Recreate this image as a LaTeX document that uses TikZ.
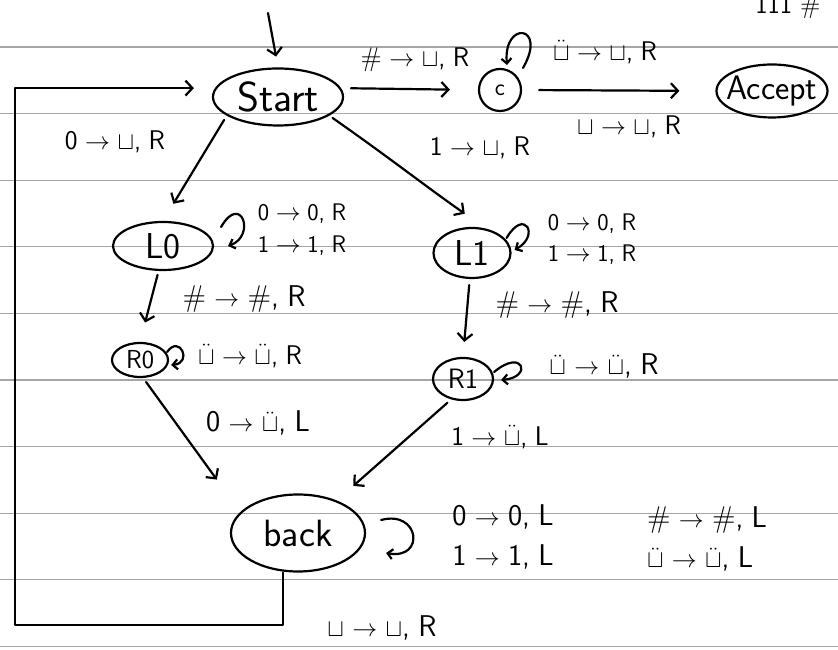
\documentclass[tikz,border=0pt]{standalone}
\usepackage{amsmath}
\usepackage{amssymb}
\usepackage{fontspec}
\usetikzlibrary{arrows.meta, shapes.geometric}
\newcommand{\tmblank}{$\sqcup$}
\newcommand{\tmmark}{$\ddot{\sqcup}$}
\newcommand{\tmmove}[3]{#1\;$\rightarrow$\;#2,\;#3}
\tikzset{tmstate/.style={draw,ellipse,line width=2.2pt,inner sep=0pt,font=\fontsize{30}{30}\selectfont\sffamily},
         rule/.style={gray!70,line width=1.1pt},
         hand/.style={->,line width=2.2pt,line cap=round,line join=round},
         loopy/.style={hand,>={Straight Barb[length=5pt,width=10pt]}},
         lab/.style={font=\fontsize{27}{40}\selectfont\sffamily,align=left,inner sep=1pt},
         labw/.style={lab,font=\fontsize{30}{40}\selectfont\sffamily}}

\begin{document}
\begin{tikzpicture}[x=1pt,y=1pt,>={Straight Barb[length=7pt,width=15pt]}]
        \fill[white](0,0)rectangle(838,650);
        \useasboundingbox(0,0)rectangle(838,650);
        % ruled paper
        \foreach \k in {0,...,9}
            \draw[rule](0,603-66.6*\k)--(838,603-66.6*\k);

        \node[tmstate,minimum width=130pt,minimum height=57pt,inner xsep=-12pt,font=\fontsize{42}{42}\selectfont\sffamily](start)at(278,553){Start};
        \node[tmstate,circle,minimum size=42pt,font=\fontsize{24}{24}\selectfont\sffamily](c)at(500,560){c};
        \node[tmstate,minimum width=111pt,minimum height=53pt,inner xsep=-12pt,font=\fontsize{34}{34}\selectfont\sffamily](accept)at(772,559){Accept};
        \node[tmstate,minimum width=100pt,minimum height=48pt,inner xsep=-3pt,font=\fontsize{36}{36}\selectfont\sffamily](l0)at(163,404){L0};
        \node[tmstate,minimum width=77pt,minimum height=50pt,inner xsep=-6pt,font=\fontsize{36}{36}\selectfont\sffamily](l1)at(472,397){L1};
        \node[tmstate,minimum width=56pt,minimum height=34pt,inner xsep=-5pt,font=\fontsize{26}{26}\selectfont\sffamily](r0)at(140,290){R0};
        \node[tmstate,minimum width=60pt,minimum height=42pt,inner xsep=-4pt,font=\fontsize{28}{28}\selectfont\sffamily](r1)at(463,271){R1};
        \node[tmstate,minimum width=134pt,minimum height=77pt,font=\fontsize{38}{38}\selectfont\sffamily](back)at(298,117){back};
        \node[lab,font=\fontsize{26}{26}\selectfont\sffamily](pg)at(788,643){111 \#};

        \coordinate(init)at(268,637);
        \coordinate(corner)at(15,25);
        \draw[hand,shorten >=11pt](init)--(start.north);
        \draw[hand,shorten <=10pt,shorten >=28pt](start.8)--(c.west);
        \draw[hand,shorten <=17pt,shorten >=36pt](c.east)--(accept.west);
        \draw[hand,shorten <=5pt,shorten >=20pt](start.-160)--(l0.north);
        \draw[hand,shorten <=4pt,shorten >=26pt](start.-20)to[out=-35,in=145](l1.60);
        \draw[hand,shorten <=4pt,shorten >=20pt](l0.-100)--(r0.north);
        \draw[hand,shorten <=6pt,shorten >=15pt](l1.-95)--(r1.north);
        \draw[hand,shorten <=5pt,shorten >=40pt](r0.-80)--(back.160);
        \draw[hand,shorten <=5pt,shorten >=22pt](r1.-120)--(back.40);
        \draw[hand,shorten >=21pt]([xshift=-15pt]back.south)|-(corner)|-(start.172);

        % self loops
        \draw[loopy]([shift={(23,22)}]c.center)..controls +(60:50) and +(95:45)..([shift={(7,25)}]c.center);
        \draw[loopy]([shift={(7,19)}]l0.east)..controls +(60:40) and +(20:30)..([shift={(14,0)}]l0.east);
        \draw[loopy]([shift={(-5,15)}]l1.east)..controls +(60:35) and +(30:30)..([shift={(3,3)}]l1.east);
        \draw[loopy]([shift={(-2,8)}]r0.east)..controls +(55:22) and +(5:22)..([shift={(2,-5)}]r0.east);
        \draw[loopy]([shift={(0,7)}]r1.east)..controls +(40:38) and +(5:32)..([shift={(7,-1)}]r1.east);
        \draw[loopy]([shift={(15,13)}]back.east)..controls +(15:40) and +(-10:40)..([shift={(20,-20)}]back.east);

        \node[lab](lab1)at(115,508){\tmmove{0}{\tmblank}{R}};
        \node[lab](lab2)at(415,590){\tmmove{\#}{\tmblank}{R}};
        \node[lab](lab3)at(605,598){\tmmove{\tmmark}{\tmblank}{R}};
        \node[lab](lab4)at(629,523){\tmmove{\tmblank}{\tmblank}{R}};
        \node[lab](lab5)at(480,502){\tmmove{1}{\tmblank}{R}};
        \node[lab,font=\fontsize{24}{32}\selectfont\sffamily](lab6)at(302,420){\tmmove{0}{0}{R}\\\tmmove{1}{1}{R}};
        \node[lab,font=\fontsize{24}{31}\selectfont\sffamily](lab7)at(592,411){\tmmove{0}{0}{R}\\\tmmove{1}{1}{R}};
        \node[labw](lab8)at(244,351){\tmmove{\#}{\#}{R}};
        \node[labw](lab9)at(557,345){\tmmove{\#}{\#}{R}};
        \node[lab](lab10)at(250,294){\tmmove{\tmmark}{\tmmark}{R}};
        \node[labw](lab11)at(604,284){\tmmove{\tmmark}{\tmmark}{R}};
        \node[labw](lab12)at(258,227){\tmmove{0}{\tmmark}{L}};
        \node[lab](lab13)at(500,213){\tmmove{1}{\tmmark}{L}};
        \node[labw](lab14)at(503,113){\tmmove{0}{0}{L}\\\tmmove{1}{1}{L}};
        \node[labw](lab15)at(707,111){\tmmove{\#}{\#}{L}\\\tmmove{\tmmark}{\tmmark}{L}};
        \node[labw](lab16)at(382,22){\tmmove{\tmblank}{\tmblank}{R}};
    \end{tikzpicture}
\end{document}
